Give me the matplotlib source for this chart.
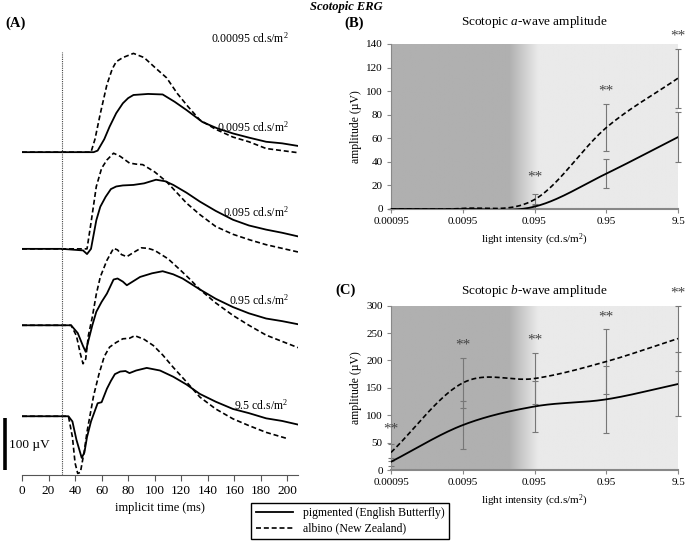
import numpy as np
import matplotlib
matplotlib.use("Agg")
import matplotlib.pyplot as plt
from matplotlib.lines import Line2D

plt.rcParams['font.family'] = ['Liberation Serif', 'DejaVu Serif']
plt.rcParams['mathtext.fontset'] = 'custom'
plt.rcParams['mathtext.rm'] = 'Liberation Serif'
plt.rcParams['mathtext.it'] = 'Liberation Serif:italic'

# ---- Panel A: ERG traces (time in ms, amplitude in uV relative to baseline) ----
t_0095_pig = [0, 30, 54, 57, 62, 66, 71, 76, 80, 84, 95, 106, 115, 124, 136, 147, 159, 171, 184, 196, 208]
a_0095_pig = [0, 0, 0, 3, 25, 49, 75, 94, 104, 110, 112, 111, 97, 81, 58, 46, 36, 28, 20, 17, 12]
t_0095_alb = [0, 30, 52, 55, 59, 64, 68, 71, 76, 84, 92, 101, 109, 117, 125, 134, 146, 159, 171, 184, 196, 208]
a_0095_alb = [0, 0, 0, 25, 74, 130, 160, 174, 182, 190, 182, 161, 143, 113, 88, 62, 44, 29, 20, 7, 3, -1]

t_095_pig = [0, 30, 46, 49, 52, 56, 59, 63, 67, 71, 76, 84, 92, 101, 108, 114, 124, 134, 146, 159, 171, 184, 196, 208]
a_095_pig = [0, 0, -3, -10, 0, 55, 81, 100, 115, 120, 122, 123, 126, 133, 130, 123, 108, 91, 73, 56, 45, 37, 31, 24]
t_095_alb = [0, 30, 47, 49, 52, 56, 60, 64, 69, 74, 81, 86, 91, 100, 109, 116, 124, 134, 146, 159, 172, 184, 196, 208]
a_095_alb = [0, 0, 0, 0, 50, 120, 155, 171, 184, 178, 165, 163, 162, 148, 129, 110, 88, 66, 43, 28, 17, 8, 1, -6]

t_95_pig = [0, 30, 37, 42, 46, 48, 50, 53, 56, 60, 64, 69, 72, 76, 79, 84, 89, 98, 106, 114, 121, 134, 146, 159, 171, 184, 196, 208]
a_95_pig = [0, 0, 0, -15, -40, -51, -30, 0, 26, 45, 61, 88, 90, 84, 77, 85, 93, 100, 104, 98, 90, 69, 51, 35, 23, 13, 8, 2]
t_95_alb = [0, 30, 37, 41, 44, 46, 48, 50, 53, 56, 59, 64, 69, 72, 75, 79, 84, 90, 95, 100, 110, 119, 126, 134, 146, 159, 171, 184, 196, 208]
a_95_alb = [0, 0, 0, -20, -55, -74, -65, -20, 16, 60, 93, 125, 148, 145, 136, 132, 140, 149, 148, 144, 128, 107, 90, 69, 43, 19, 0, -19, -31, -43]

t_9_5_pig = [0, 30, 35, 38, 41, 45, 47, 49, 52, 55, 57, 60, 64, 67, 70, 74, 78, 81, 86, 94, 104, 114, 124, 134, 146, 159, 171, 184, 196, 208]
a_9_5_pig = [0, 0, 0, -10, -45, -80, -70, -40, -10, 11, 25, 27, 53, 68, 81, 86, 87, 83, 88, 93, 88, 76, 61, 43, 28, 14, 6, -4, -9, -16]
t_9_5_alb = [0, 30, 35, 38, 40, 42, 44, 47, 49, 51, 54, 58, 62, 66, 71, 76, 81, 85, 92, 99, 106, 114, 124, 134, 146, 159, 171, 184, 200]
a_9_5_alb = [0, 0, 0, -40, -90, -110, -108, -66, -30, -2, 40, 81, 115, 133, 142, 149, 150, 155, 148, 136, 118, 94, 66, 37, 14, -5, -18, -31, -43]

trace_labels = ["0.00095", "0.0095", "0.095", "0.95", "9.5"]
trace_label_y = [840, 669, 506, 337, 135]
baselines = [621, 435, 288, 113]

# ---- Panels B and C: amplitudes vs light intensity ----
intensities = ["0.00095", "0.0095", "0.095", "0.95", "9.5"]
a_pig = [0, 0, 2, 30, 61]
a_pig_err = [0, 0, 2, 12.5, 21.5]
a_alb = [0, 0.5, 8, 69, 111]
a_alb_err = [0, 0, 5, 20, 25]
a_stars = [None, None, 27, 100, 147]

b_pig = [15, 82, 116, 129, 157]
b_pig_err = [7, 44, 46, 61, 58]
b_alb = [32, 159, 167, 198, 240]
b_alb_err = [15, 45, 46, 59, 60]
b_stars = [75, 228, 237, 279, 324]

W, H = 685, 547


def smooth(y):
    # Catmull-Rom style smoothing, like Excel's "smoothed line"
    y = np.asarray(y, float)
    p = np.concatenate([[2 * y[0] - y[1]], y, [2 * y[-1] - y[-2]]])
    xs, ys = [], []
    for i in range(len(y) - 1):
        s = np.linspace(0, 1, 40)
        p0, p1, p2, p3 = p[i], p[i + 1], p[i + 2], p[i + 3]
        yy = 0.5 * ((2 * p1) + (-p0 + p2) * s + (2 * p0 - 5 * p1 + 4 * p2 - p3) * s ** 2
                    + (-p0 + 3 * p1 - 3 * p2 + p3) * s ** 3)
        xs.append(i + s)
        ys.append(yy)
    return np.concatenate(xs), np.concatenate(ys)


fig = plt.figure(figsize=(W / 100, H / 100), dpi=100)

# ---------------- Panel A ----------------
ax = fig.add_axes([22 / W, 72 / H, 276 / W, 445 / H])
dash = (0, (3.0, 1.7))
pairs = [(t_0095_pig, a_0095_pig, t_0095_alb, a_0095_alb),
         (t_095_pig, a_095_pig, t_095_alb, a_095_alb),
         (t_95_pig, a_95_pig, t_95_alb, a_95_alb),
         (t_9_5_pig, a_9_5_pig, t_9_5_alb, a_9_5_alb)]
for (tp, ap, ta, aa), base in zip(pairs, baselines):
    ax.plot(ta, np.array(aa) + base, color='black', lw=1.2, ls=dash)
    ax.plot(tp, np.array(ap) + base, color='black', lw=1.3)
for lab, yy in zip(trace_labels, trace_label_y):
    ax.text(201, yy, lab + r" cd.s/m$^2$", ha='right', va='center', fontsize=8.5)
ax.axvline(30, ymax=(475 - 52) / 445, color='#444444', lw=0.8, ls=(0, (1, 1)))
ax.set_xlim(0, 208)
ax.set_ylim(0, 856)
ax.set_xticks(range(0, 201, 20))
ax.tick_params(axis='x', labelsize=9.5, direction='out', length=4, color='#555555')
ax.set_yticks([])
for s in ['left', 'top', 'right']:
    ax.spines[s].set_visible(False)
ax.spines['bottom'].set_color('#555555')
ax.set_xlabel("implicit time (ms)", fontsize=9, labelpad=3)
# scale bar
ax.plot([-12.8, -12.8], [10, 110], color='black', lw=2.6, clip_on=False, solid_capstyle='butt')
ax.text(-10, 58, "100 µV", fontsize=9.5, va='center', ha='left')

fig.text(5 / W, 1 - 23 / H, "(A)", fontsize=10.5, fontweight='bold', va='center')
fig.text(346 / W, 1 - 7 / H, "Scotopic ERG", fontsize=9, fontweight='bold',
         style='italic', ha='center', va='center')


def panel(axp, pig, pig_err, alb, alb_err, stars, ymax, ystep):
    # shaded background: dark gray (scotopic) fading to light gray
    xs = np.linspace(0, 4, 400)
    frac = np.clip((xs - 1.65) / 0.4, 0, 1)
    shade = 0.69 + (0.915 - 0.69) * frac
    img = np.tile(shade, (2, 1))
    axp.imshow(img, cmap='gray', vmin=0, vmax=1, aspect='auto',
               extent=[0, 4, 0, ymax], zorder=0, interpolation='bilinear')
    x = np.arange(len(pig))
    axp.errorbar(x, pig, yerr=pig_err, fmt='none', ecolor='#777777', elinewidth=0.8,
                 capsize=2.5, capthick=0.8, zorder=2, clip_on=False)
    axp.errorbar(x, alb, yerr=alb_err, fmt='none', ecolor='#777777', elinewidth=0.8,
                 capsize=2.5, capthick=0.8, zorder=2, clip_on=False)
    sx, sy = smooth(alb)
    axp.plot(sx, sy, color='black', lw=1.2, ls=dash, zorder=3)
    sx, sy = smooth(pig)
    axp.plot(sx, sy, color='black', lw=1.3, zorder=3)
    for xi, st in zip(x, stars):
        if st is not None:
            axp.text(xi, st, "**", ha='center', va='center', fontsize=11,
                     color='#444444', clip_on=False)
    axp.set_xlim(0, 4)
    axp.set_ylim(0, ymax)
    axp.set_xticks(x)
    axp.set_xticklabels(intensities)
    axp.set_yticks(np.arange(0, ymax + 1, ystep))
    axp.tick_params(labelsize=8, length=3, color='#888888', pad=3)
    for s in ['top', 'right']:
        axp.spines[s].set_visible(False)
    axp.spines['left'].set_color('#888888')
    axp.spines['bottom'].set_color('#888888')
    axp.spines['bottom'].set_linewidth(1.5)
    axp.set_ylabel("amplitude (µV)", fontsize=8.5, labelpad=3)
    axp.set_xlabel(r"light intensity (cd.s/m$^2$)", fontsize=8, labelpad=4)


# ---------------- Panel B ----------------
axb = fig.add_axes([391 / W, (H - 209) / H, 287 / W, 165 / H])
panel(axb, a_pig, a_pig_err, a_alb, a_alb_err, a_stars, 140, 20)
fig.text(534 / W, 1 - 22 / H, r"Scotopic $\mathit{a}$-wave amplitude", fontsize=9.5,
         ha='center', va='center')
fig.text(344 / W, 1 - 23 / H, "(B)", fontsize=10.5, fontweight='bold', va='center')

# ---------------- Panel C ----------------
axc = fig.add_axes([391 / W, (H - 470) / H, 287 / W, 164.3 / H])
panel(axc, b_pig, b_pig_err, b_alb, b_alb_err, b_stars, 300, 50)
fig.text(534 / W, 1 - 291 / H, r"Scotopic $\mathit{b}$-wave amplitude", fontsize=9.5,
         ha='center', va='center')
fig.text(335 / W, 1 - 290 / H, "(C)", fontsize=10.5, fontweight='bold', va='center')

# ---------------- Legend ----------------
handles = [Line2D([], [], color='black', lw=1.3),
           Line2D([], [], color='black', lw=1.2, ls=dash)]
fig.legend(handles, ["pigmented (English Butterfly)", "albino (New Zealand)"],
           loc='center', bbox_to_anchor=(350 / W, 1 - 521 / H), fontsize=8.5,
           frameon=True, fancybox=False, edgecolor='black', framealpha=1,
           handlelength=3.2, borderpad=0.35, labelspacing=0.3, handletextpad=0.8)

fig.savefig("out.png", dpi=100)
